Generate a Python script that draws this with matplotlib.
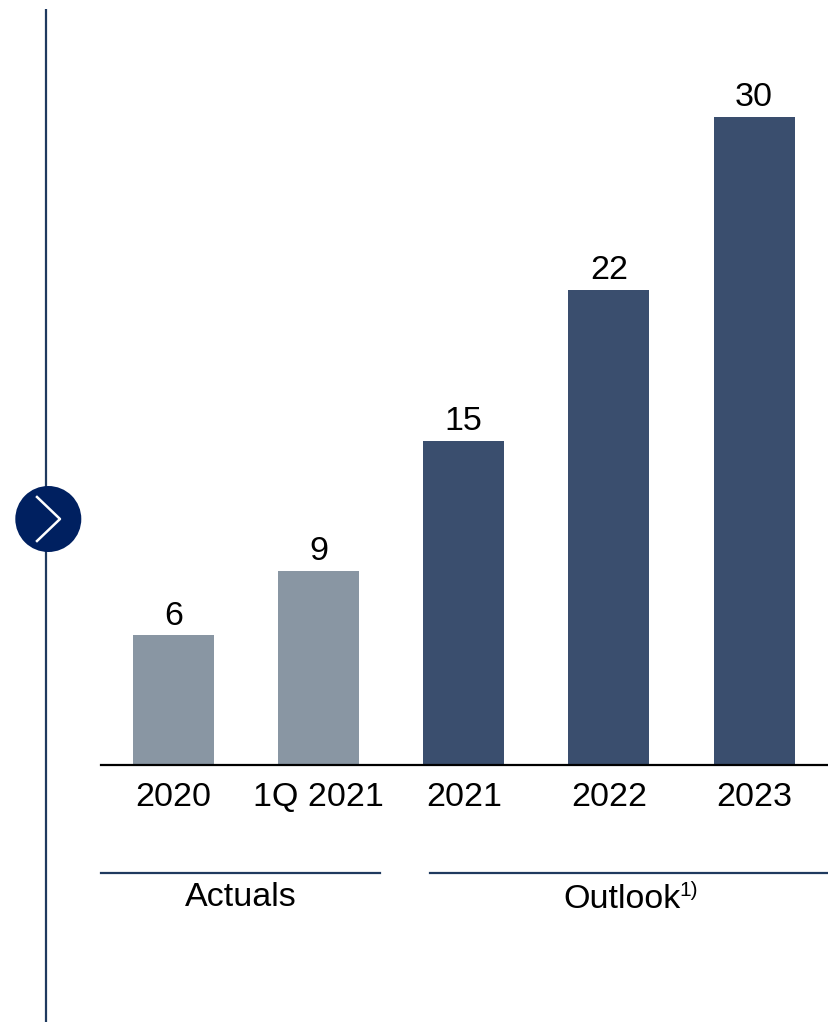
import matplotlib
matplotlib.use("Agg")
import matplotlib.pyplot as plt
from matplotlib.patches import Circle

# Values per period
categories = ["2020", "1Q 2021", "2021", "2022", "2023"]
values = [6, 9, 15, 22, 30]
bar_colors = ["#8996a3", "#8996a3", "#3a4e6e", "#3a4e6e", "#3a4e6e"]
group_labels = ["Actuals", "Outlook"]

W, H = 829, 1022
plt.rcParams['font.family'] = ['Liberation Sans', 'DejaVu Sans']

fig = plt.figure(figsize=(W / 100, H / 100), dpi=100)

# Overlay in pixel coordinates for the side rule, marker and group lines
over = fig.add_axes([0, 0, 1, 1])
over.set_xlim(0, W)
over.set_ylim(H, 0)
over.axis("off")

# Bar chart, baseline at y=765
ax = fig.add_axes([100.7 / W, (H - 765) / H, 726 / W, 756 / H])
ax.bar(range(len(values)), values, width=0.557, color=bar_colors)
ax.set_xlim(-0.5, 4.5)
ax.set_ylim(0, 35)
ax.patch.set_alpha(0)
for s in ["top", "left", "right"]:
    ax.spines[s].set_visible(False)
ax.spines["bottom"].set_linewidth(1.6)
ax.spines["bottom"].set_color("#000000")
ax.set_yticks([])
ax.set_xticks(range(len(values)))
ax.set_xticklabels(categories, fontsize=24.5, color="#000000")
ax.tick_params(axis="x", length=0, pad=12.5)

for i, v in enumerate(values):
    ax.annotate(str(v), (i, v), xytext=(0, 2.6), textcoords="offset points",
                ha="center", va="bottom", fontsize=24.5, color="#000000")

# Side rule with arrow marker
over.plot([46, 46], [9, 1022], color="#1f3a5f", lw=1.6, solid_capstyle="butt")
over.add_patch(Circle((48.3, 519), 33, facecolor="#002060", edgecolor="none", zorder=3))
over.plot([37, 60, 37], [497, 519, 541], color="white", lw=1.8, zorder=4)

# Group brackets
over.plot([101, 380], [873, 873], color="#1f3a5f", lw=1.6)
over.plot([430, 829], [873, 873], color="#1f3a5f", lw=1.6)
over.text(241, 898, group_labels[0], ha="center", va="center", fontsize=24.5, color="#000000")
over.text(563, 899, group_labels[1], ha="left", va="center", fontsize=24.5, color="#000000")
over.text(679, 890, "1)", ha="left", va="center", fontsize=15, color="#000000")

fig.savefig("out.png", dpi=100)
